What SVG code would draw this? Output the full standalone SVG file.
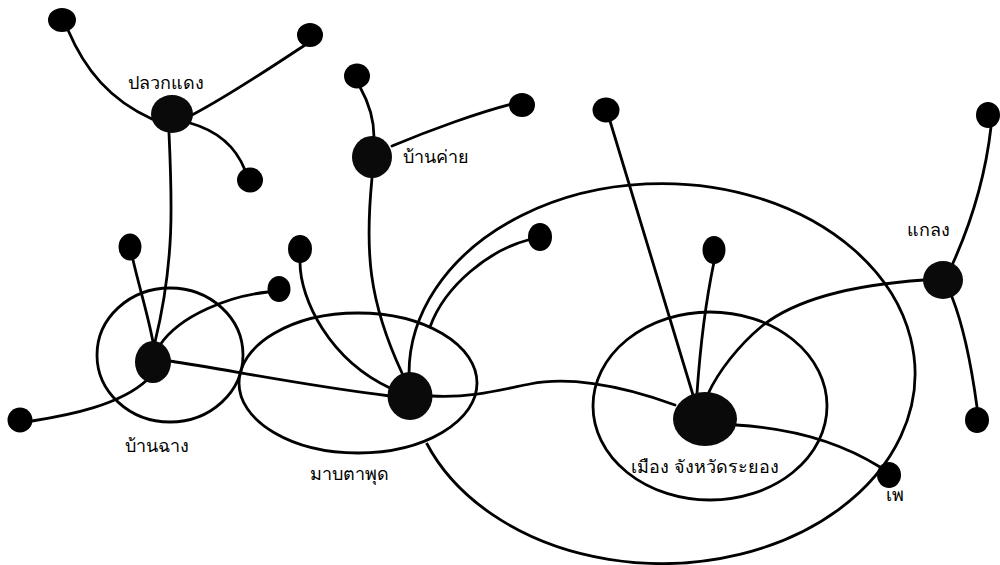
<svg xmlns="http://www.w3.org/2000/svg" width="1000" height="565" viewBox="0 0 1000 565">
  <style>
    .ring { fill: none; stroke: #000; stroke-width: 2.8; }
    .link { fill: none; stroke: #000; stroke-width: 2.8; stroke-linecap: round; }
    .dot  { fill: #000; }
    .hub  { fill: #0a0a0a; }
    .lbl  { font-family: "Noto Sans", "DejaVu Sans", sans-serif; font-size: 18px; fill: #000; }
  </style>
  <rect width="1000" height="565" fill="#fff"/>

  <!-- service areas -->
  <g id="areas">
    <path id="area-rayong-outer" class="ring" d="M409,373.5 A253,190 0 1 1 426.5,443"/>
    <ellipse id="area-mueang" class="ring" cx="710" cy="406" rx="117" ry="94"/>
    <ellipse id="area-banchang" class="ring" cx="170" cy="355" rx="73" ry="67"/>
    <ellipse id="area-maptaphut" class="ring" cx="358" cy="383" rx="119" ry="70"/>
  </g>

  <!-- connectors -->
  <g id="connectors">
    <!-- Pluak Daeng -->
    <path class="link" d="M68,30 C85,70 110,100 152,119"/>
    <path class="link" d="M305,45 C270,68 230,95 192,115"/>
    <path class="link" d="M190,123 C215,130 235,145 245,170"/>
    <path class="link" d="M169,133 C172,200 175,260 155,342"/>
    <!-- Ban Chang -->
    <path class="link" d="M133,260 C140,290 148,315 153,342"/>
    <path class="link" d="M268,292 C230,296 180,315 160,345"/>
    <path class="link" d="M32,421 C70,415 120,405 147,380"/>
    <path class="link" d="M170,361 C230,370 300,385 390,396"/>
    <!-- Ban Khai -->
    <path class="link" d="M360,87 C370,105 374,120 374,137"/>
    <path class="link" d="M392,146 C430,130 480,112 512,104"/>
    <path class="link" d="M372,178 C365,250 368,300 402,373"/>
    <!-- Map Ta Phut -->
    <path class="link" d="M300,262 C300,300 330,360 390,388"/>
    <path class="link" d="M528,240 C490,250 445,285 430,327"/>
    <path class="link" d="M432,396 C470,398 500,390 530,384 C565,377 615,383 675,405"/>
    <!-- Mueang Rayong -->
    <path class="link" d="M610,121 L693,395"/>
    <path class="link" d="M714,262 C706,300 700,350 697,393"/>
    <path class="link" d="M924,280 C880,283 805,292 762,326 C738,346 718,372 708,394"/>
    <path class="link" d="M736,425 C790,428 840,442 880,467"/>
    <!-- Klaeng -->
    <path class="link" d="M991,127 C985,180 970,225 953,263"/>
    <path class="link" d="M952,297 C965,330 972,370 977,407"/>
  </g>

  <!-- outlying settlements -->
  <g id="n-d1"><ellipse class="dot" cx="62" cy="20" rx="14" ry="12"/></g>
  <g id="n-d2"><ellipse class="dot" cx="310" cy="35" rx="13" ry="12"/></g>
  <g id="n-d3"><ellipse class="dot" cx="250" cy="180" rx="13" ry="12.5"/></g>
  <g id="n-d4"><ellipse class="dot" cx="357" cy="76" rx="13" ry="12.5"/></g>
  <g id="n-d5"><ellipse class="dot" cx="522" cy="105" rx="13" ry="12"/></g>
  <g id="n-d6"><ellipse class="dot" cx="130" cy="247" rx="11.5" ry="13.5"/></g>
  <g id="n-d7"><ellipse class="dot" cx="20" cy="420" rx="12.5" ry="12.5"/></g>
  <g id="n-d8"><ellipse class="dot" cx="300" cy="249" rx="12" ry="14"/></g>
  <g id="n-d9"><ellipse class="dot" cx="279" cy="289" rx="11.5" ry="13"/></g>
  <g id="n-d10"><ellipse class="dot" cx="540" cy="237" rx="12" ry="14"/></g>
  <g id="n-d11"><ellipse class="dot" cx="606" cy="110" rx="13.5" ry="12.5"/></g>
  <g id="n-d12"><ellipse class="dot" cx="714" cy="250" rx="11.5" ry="14"/></g>
  <g id="n-d13"><ellipse class="dot" cx="988" cy="115" rx="12" ry="13"/></g>
  <g id="n-d14"><ellipse class="dot" cx="977" cy="420" rx="12" ry="13"/></g>

  <!-- named centres -->
  <g id="n-pluakdaeng">
    <ellipse class="hub" cx="172" cy="114" rx="21" ry="19"/>
    <text class="lbl" x="128" y="89">ปลวกแดง</text>
  </g>
  <g id="n-bankhai">
    <ellipse class="hub" cx="372" cy="157" rx="20" ry="21"/>
    <text class="lbl" x="403" y="163">บ้านค่าย</text>
  </g>
  <g id="n-banchang">
    <ellipse class="hub" cx="153" cy="362" rx="18" ry="21"/>
    <text class="lbl" x="125" y="452">บ้านฉาง</text>
  </g>
  <g id="n-maptaphut">
    <ellipse class="hub" cx="410" cy="396" rx="22.5" ry="24"/>
    <text class="lbl" x="310" y="480">มาบตาพุด</text>
  </g>
  <g id="n-mueang">
    <ellipse class="hub" cx="705" cy="419" rx="32" ry="27"/>
    <text class="lbl" x="631" y="473">เมือง จังหวัดระยอง</text>
  </g>
  <g id="n-klaeng">
    <ellipse class="hub" cx="943" cy="280" rx="20" ry="19"/>
    <text class="lbl" x="907" y="236">แกลง</text>
  </g>
  <g id="n-phe">
    <ellipse class="dot" cx="889" cy="475" rx="12" ry="13"/>
    <text class="lbl" x="886" y="501">เพ</text>
  </g>
</svg>
